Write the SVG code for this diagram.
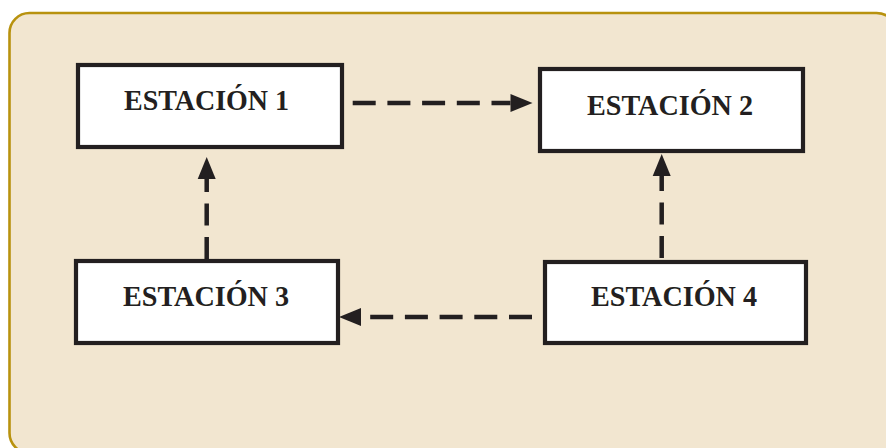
<svg xmlns="http://www.w3.org/2000/svg" width="886" height="448" viewBox="0 0 886 448">
  <style>
    .panel { fill: #f2e6d0; stroke: #b8920e; stroke-width: 2.6; }
    .box { fill: #ffffff; stroke: #231f20; stroke-width: 4.2; }
    .label { font-family: "Liberation Serif", "Times New Roman", serif; font-weight: bold; font-size: 29px; fill: #231f20; text-anchor: middle; }
    .conn { fill: none; stroke: #231f20; stroke-width: 4.5; }
    .h { stroke-dasharray: 23 11.7; }
    .v { stroke-dasharray: 22 11.5; }
  </style>
  <defs>
    <marker id="arrow" markerUnits="userSpaceOnUse" markerWidth="22" markerHeight="18" refX="0" refY="9" orient="auto" overflow="visible">
      <path d="M0,0 L22,9 L0,18 Z" fill="#231f20"/>
    </marker>
  </defs>
  <rect class="panel" x="9.5" y="13" width="887" height="440" rx="20" ry="20"/>
  <g id="connectors">
    <line class="conn h" x1="352.7" y1="103" x2="510.5" y2="103" marker-end="url(#arrow)"/>
    <line class="conn h" x1="532" y1="317" x2="361" y2="317" marker-end="url(#arrow)"/>
    <line class="conn v" x1="206.7" y1="259" x2="206.7" y2="179" marker-end="url(#arrow)"/>
    <line class="conn v" x1="661.7" y1="258" x2="661.7" y2="176" marker-end="url(#arrow)"/>
  </g>
  <g id="estacion1">
    <rect class="box" x="78" y="65" width="264" height="82"/>
    <text class="label" x="206.5" y="110" textLength="165" lengthAdjust="spacingAndGlyphs">ESTACIÓN 1</text>
  </g>
  <g id="estacion2">
    <rect class="box" x="540" y="69" width="263" height="82"/>
    <text class="label" x="670" y="115" textLength="166" lengthAdjust="spacingAndGlyphs">ESTACIÓN 2</text>
  </g>
  <g id="estacion3">
    <rect class="box" x="76" y="261" width="262" height="82"/>
    <text class="label" x="206" y="306" textLength="166" lengthAdjust="spacingAndGlyphs">ESTACIÓN 3</text>
  </g>
  <g id="estacion4">
    <rect class="box" x="545" y="262" width="261" height="81"/>
    <text class="label" x="674" y="306" textLength="166" lengthAdjust="spacingAndGlyphs">ESTACIÓN 4</text>
  </g>
</svg>
